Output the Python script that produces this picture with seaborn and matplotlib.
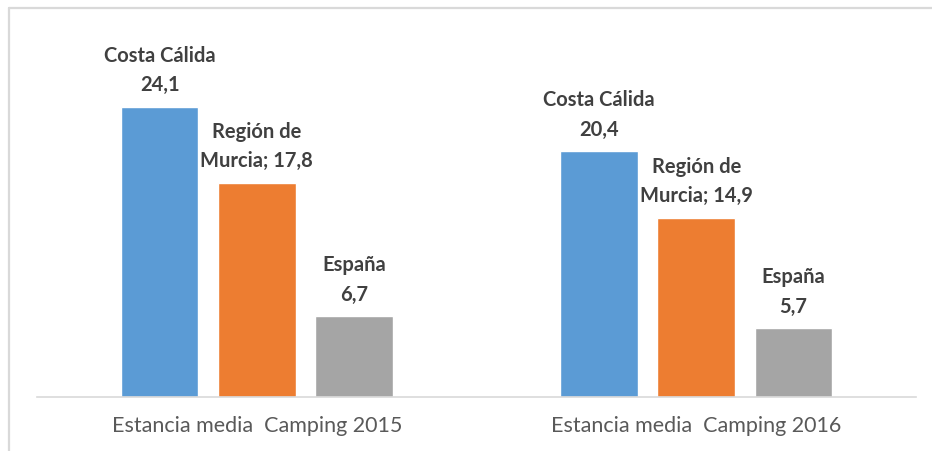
import numpy as np
import pandas as pd
import seaborn as sns
import matplotlib.pyplot as plt
from matplotlib.lines import Line2D

# data
groups = ['Estancia media  Camping 2015', 'Estancia media  Camping 2016']
series = ['Costa Cálida', 'Región de Murcia', 'España']
costa_calida = [24.1, 20.4]
region_murcia = [17.8, 14.9]
espana = [6.7, 5.7]
label_fmt = {'Costa Cálida': 'Costa Cálida\n{}',
             'Región de Murcia': 'Región de\nMurcia; {}',
             'España': 'España\n{}'}

colors = ['#5b9bd5', '#ed7d31', '#a5a5a5']

df = pd.DataFrame({
    'group': groups * 3,
    'serie': [s for s in series for _ in groups],
    'value': costa_calida + region_murcia + espana,
})

sns.set_theme(style='white')
plt.rcParams['font.family'] = ['Lato', 'DejaVu Sans']

W, H = 932, 452
fig = plt.figure(figsize=(W / 100, H / 100), dpi=100)
# axes placed in pixel terms
left, right, bottom, top = 37, 916, 398, 20
ax = fig.add_axes([left / W, (H - bottom) / H, (right - left) / W, (bottom - top) / H])

sns.barplot(data=df, x='group', y='value', hue='serie', hue_order=series,
            palette=colors, width=0.663, gap=0.2, saturation=1, ax=ax,
            legend=False, errorbar=None)

ax.set_ylim(0, 31.4)
ax.set_xlim(-0.5, 1.5)
ax.set_xlabel('')
ax.set_ylabel('')
ax.set_yticks([])
for s in ['top', 'right', 'left']:
    ax.spines[s].set_visible(False)
ax.spines['bottom'].set_color('#d9d9d9')
ax.spines['bottom'].set_linewidth(1.2)
ax.tick_params(axis='x', length=0, pad=13, labelsize=15.5, labelcolor='#595959')

# bar labels
for cont, s in zip(ax.containers, series):
    for rect in cont:
        v = rect.get_height()
        txt = label_fmt[s].format(f'{v:.1f}'.replace('.', ','))
        ax.annotate(txt, (rect.get_x() + rect.get_width() / 2, v),
                    xytext=(0, 9), textcoords='offset points',
                    ha='center', va='bottom', fontsize=14.5,
                    fontweight='bold', color='#404040', linespacing=1.6)

# outer frame (only left/top visible in the crop)
fx0, fy0 = 8.5 / W, 1 - 8.5 / H
fig.add_artist(Line2D([fx0, fx0], [0, fy0], transform=fig.transFigure,
                      color='#d9d9d9', lw=1.6))
fig.add_artist(Line2D([fx0, 1], [fy0, fy0], transform=fig.transFigure,
                      color='#d9d9d9', lw=1.6))

fig.savefig('out.png', dpi=100)
